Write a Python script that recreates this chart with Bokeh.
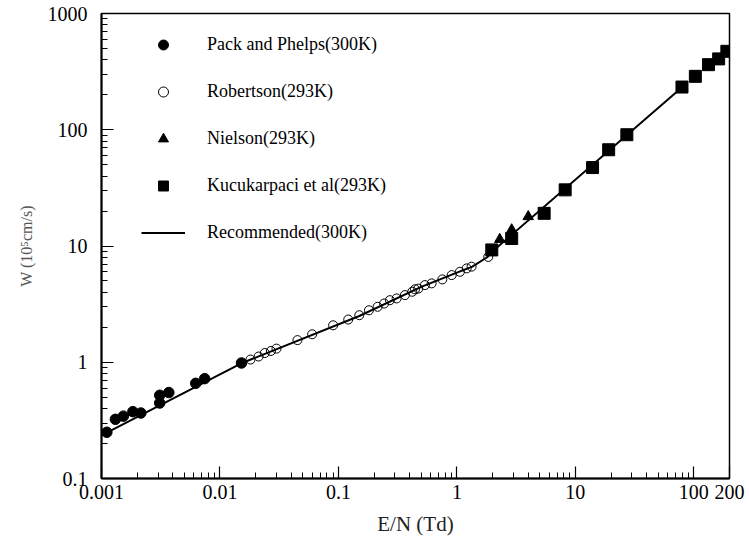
from bokeh.plotting import figure
from bokeh.models import (FixedTicker, CustomJSTickFormatter, Legend, LegendItem, Range1d)
from bokeh.embed import file_html
from bokeh.resources import INLINE

# --- data ---
pack_x = [0.00111, 0.00131, 0.00153, 0.00184, 0.00215, 0.0031, 0.0031, 0.0037, 0.00624, 0.00743, 0.0152]
pack_y = [0.25, 0.323, 0.344, 0.376, 0.366, 0.446, 0.52, 0.549, 0.659, 0.723, 0.986]

rob_x = [0.0181, 0.0212, 0.0239, 0.0269, 0.030, 0.0451, 0.060, 0.0902, 0.121, 0.150,
         0.181, 0.214, 0.243, 0.272, 0.310, 0.364, 0.42, 0.443, 0.472, 0.537, 0.612,
         0.753, 0.904, 1.06, 1.21, 1.33, 1.84]
rob_y = [1.055, 1.12, 1.20, 1.25, 1.31, 1.55, 1.74, 2.08, 2.33, 2.54,
         2.80, 3.0, 3.2, 3.42, 3.54, 3.78, 4.04, 4.24, 4.3, 4.61, 4.77,
         5.16, 5.62, 6.0, 6.42, 6.64, 8.05]

niel_x = [2.3, 2.9, 4.0]
niel_y = [11.4, 13.8, 17.9]

kuc_x = [1.97, 2.9, 5.45, 8.2, 13.97, 19.1, 27.2, 79.4, 103, 133, 162, 190]
kuc_y = [9.25, 11.6, 19.1, 30.4, 47.3, 67.3, 90.6, 233, 288, 363, 407, 473]

rec_x = [0.001, 0.015, 0.15, 0.5, 1.0, 1.35, 1.8, 2.0, 80]
rec_y = [0.235, 0.975, 2.5, 4.45, 5.9, 6.65, 8.0, 9.0, 233]

x_ticks = [0.001, 0.01, 0.1, 1, 10, 100, 200]
y_ticks = [0.1, 1, 10, 100, 1000]

FONT = "Liberation Serif"

W, H = 748, 548
p = figure(width=W, height=H, x_axis_type="log", y_axis_type="log",
           x_range=Range1d(0.001, 200), y_range=Range1d(0.1, 1000),
           output_backend="svg", toolbar_location=None,
           min_border_left=101, min_border_right=19, min_border_top=13, min_border_bottom=70)

p.xgrid.visible = False
p.ygrid.visible = False
p.outline_line_color = "black"
p.outline_line_width = 1.5
p.background_fill_color = "white"
p.border_fill_color = "white"

def minor(decades):
    out = []
    for d in decades:
        for m in range(2, 10):
            out.append(m * d)
    return out

p.xaxis.ticker = FixedTicker(ticks=x_ticks, minor_ticks=minor([0.001, 0.01, 0.1, 1, 10]))
p.yaxis.ticker = FixedTicker(ticks=y_ticks, minor_ticks=minor([0.1, 1, 10, 100]))
p.xaxis.formatter = CustomJSTickFormatter(code="return String(Number(tick.toPrecision(6)));")
p.yaxis.formatter = CustomJSTickFormatter(code="return String(Number(tick.toPrecision(6)));")

for ax in (p.xaxis[0], p.yaxis[0]):
    ax.axis_line_width = 2
    ax.axis_line_color = "black"
    ax.major_tick_in = 12
    ax.major_tick_out = 0
    ax.minor_tick_in = 6
    ax.minor_tick_out = 0
    ax.major_tick_line_width = 1.2
    ax.minor_tick_line_width = 1
    ax.major_label_text_font = FONT
    ax.major_label_text_font_size = "20px"
    ax.major_label_text_color = "black"
    ax.axis_label_text_font = FONT
    ax.axis_label_text_font_style = "normal"

p.xaxis.major_label_standoff = 6
p.yaxis.major_label_standoff = 14
p.xaxis.axis_label = "E/N (Td)"
p.xaxis.axis_label_standoff = 10
p.xaxis.axis_label_text_font_size = "21px"
p.xaxis.axis_label_text_color = "#222222"
p.yaxis.axis_label = "W (10\u2075cm/s)"
p.yaxis.axis_label_standoff = 10
p.yaxis.axis_label_text_font_size = "16px"
p.yaxis.axis_label_text_color = "#555555"

r_rec = p.line(rec_x, rec_y, line_color="black", line_width=2)
r_pack = p.scatter(pack_x, pack_y, marker="circle", size=10.5, fill_color="black", line_color="black")
r_rob = p.scatter(rob_x, rob_y, marker="circle", size=9, fill_color=None, line_color="black", line_width=1)
r_niel = p.scatter(niel_x, niel_y, marker="triangle", size=10.5, fill_color="black", line_color="black")
r_kuc = p.scatter(kuc_x, kuc_y, marker="square", size=12, fill_color="black", line_color="black")

legend = Legend(items=[
    LegendItem(label="Pack and Phelps(300K)", renderers=[r_pack]),
    LegendItem(label="Robertson(293K)", renderers=[r_rob]),
    LegendItem(label="Nielson(293K)", renderers=[r_niel]),
    LegendItem(label="Kucukarpaci et al(293K)", renderers=[r_kuc]),
    LegendItem(label="Recommended(300K)", renderers=[r_rec]),
], location=(40, 233), padding=0, margin=0, spacing=22,
    glyph_width=44, glyph_height=25, label_height=25, label_standoff=22,
    label_text_font=FONT, label_text_font_size="18px", label_text_color="black",
    border_line_alpha=0, background_fill_alpha=0)
p.add_layout(legend)

open("out.html", "w").write(file_html(p, INLINE))
